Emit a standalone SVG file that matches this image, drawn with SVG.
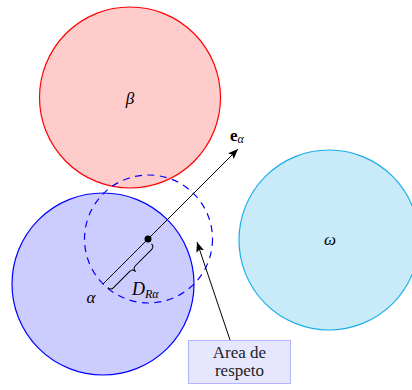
<svg xmlns="http://www.w3.org/2000/svg" width="412" height="390" viewBox="0 0 412 390">
<defs>
<style>
.math{font-family:"Liberation Serif","DejaVu Serif",serif;font-style:italic;fill:#000}
.rm{font-family:"Liberation Serif","DejaVu Serif",serif;fill:#222}
.conn{stroke:#000;stroke-width:1;fill:none}
</style>
<marker id="ah" viewBox="0 0 10 8" refX="10" refY="4" markerWidth="10" markerHeight="8" markerUnits="userSpaceOnUse" orient="auto">
<path d="M0,0 L10,4 L0,8 L2,4 Z" fill="#000"/>
</marker>
</defs>
<rect width="412" height="390" fill="#fff"/>
<g id="beta">
<circle cx="130" cy="97.5" r="90.5" fill="#ffcccc" stroke="#ff0000" stroke-width="1.2"/>
<text class="math" x="130" y="104" font-size="17" text-anchor="middle">β</text>
</g>
<g id="alpha">
<circle cx="103" cy="284" r="91" fill="#ccccff" stroke="#0000ff" stroke-width="1.2"/>
<text class="math" x="91" y="303" font-size="17" text-anchor="middle">α</text>
</g>
<g id="omega">
<circle cx="329" cy="240" r="90" fill="#c8eaf9" stroke="#1aaee8" stroke-width="1.2"/>
<text class="math" x="330" y="245" font-size="17" text-anchor="middle">ω</text>
</g>
<g id="respect-area">
<circle cx="148.5" cy="239" r="64" fill="none" stroke="#0000ff" stroke-width="1.2" stroke-dasharray="7 5.5"/>
</g>
<g id="area-label">
<rect x="188.5" y="340.5" width="102" height="43" fill="#e6e6ff" stroke="#b3b3ff" stroke-width="1"/>
<text class="rm" x="239.5" y="358" font-size="17" text-anchor="middle">Area de</text>
<text class="rm" x="239.5" y="376" font-size="17" text-anchor="middle">respeto</text>
</g>
<g id="connectors">
<line class="conn" x1="103" y1="284" x2="238" y2="149" marker-end="url(#ah)"/>
<circle cx="148" cy="239" r="3.5" fill="#000"/>
<path class="conn" d="M1,6 Q1,10 5,10 L27.8,10 Q31.8,10 31.8,14.5 Q31.8,10 35.8,10 L58.6,10 Q62.6,10 62.6,6" transform="translate(103,284) rotate(-45)"/>
<line class="conn" x1="230" y1="340" x2="197" y2="242" marker-end="url(#ah)"/>
</g>
<g id="labels">
<text x="230" y="141" font-family="'Liberation Serif', serif" font-weight="bold" font-size="17">e<tspan class="math" font-weight="normal" font-size="12" dy="2">α</tspan></text>
<text class="math" x="132" y="295" font-size="18">D<tspan font-size="12" dy="3">Rα</tspan></text>
</g>
</svg>
